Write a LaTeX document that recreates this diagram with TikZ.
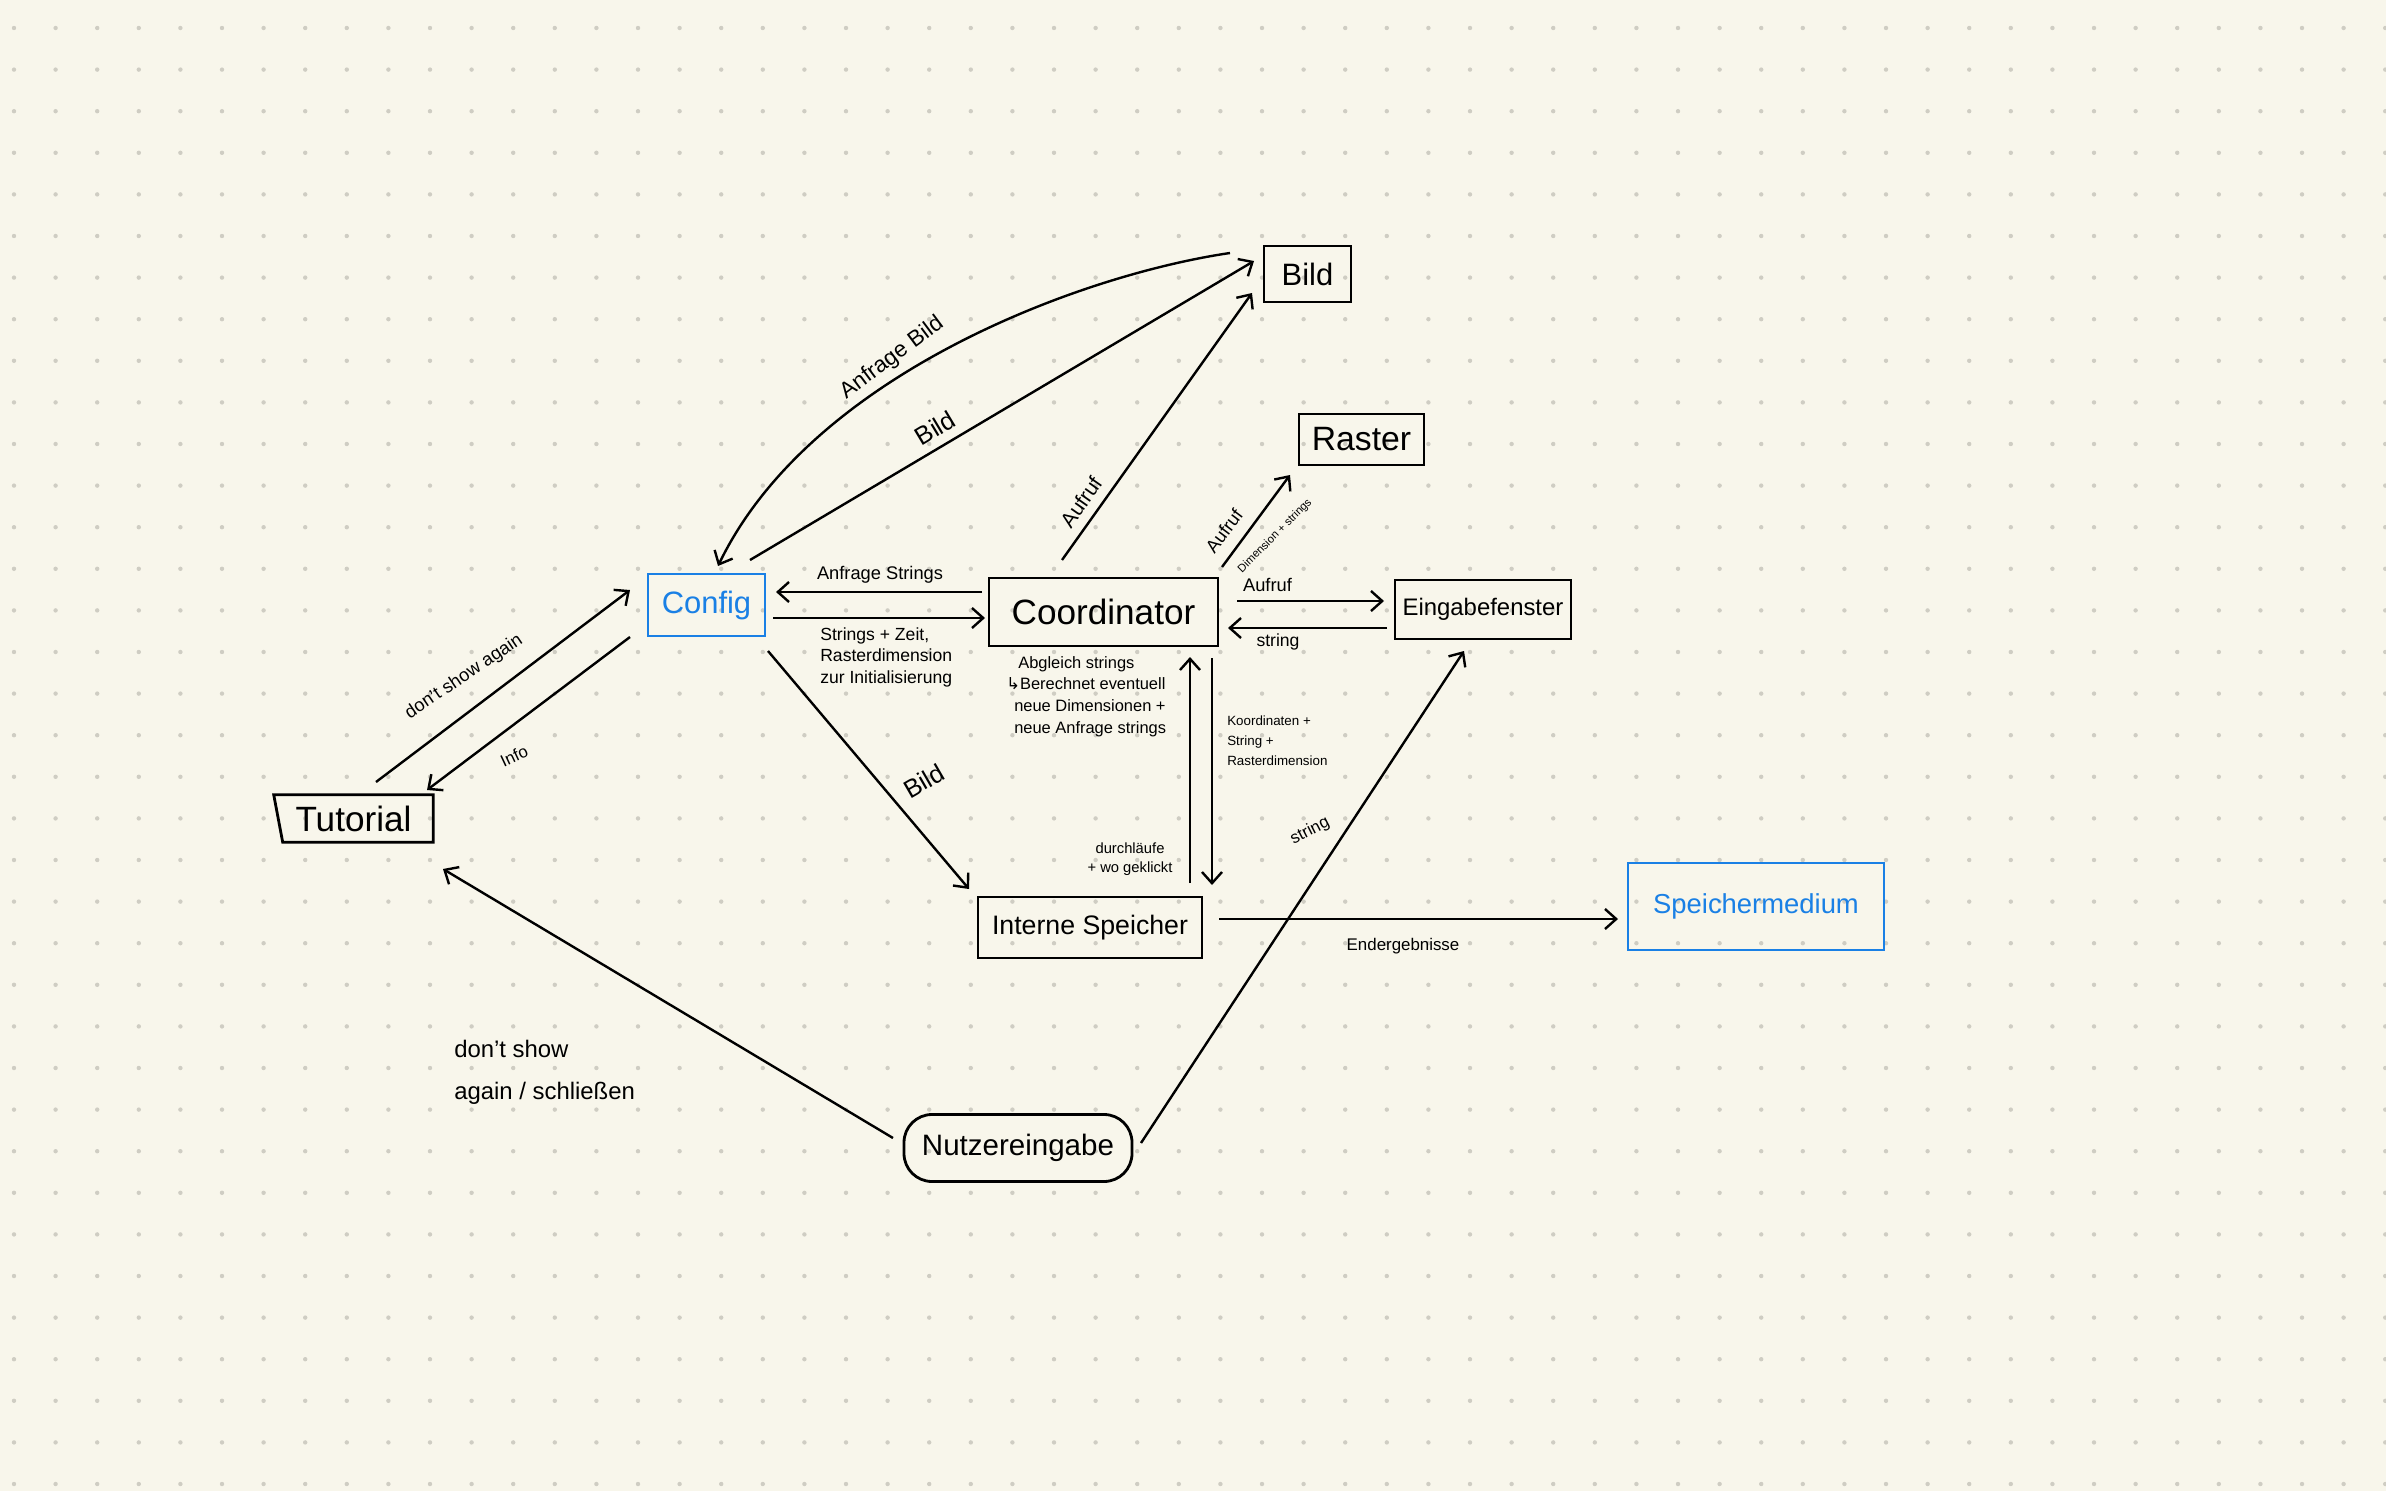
\documentclass[tikz,border=0pt]{standalone}
\usepackage{fontspec}
\setmainfont{Liberation Sans}
\newfontfamily\symfont{DejaVu Sans}
\usetikzlibrary{arrows.meta,calc}
\definecolor{paper}{HTML}{F8F6EB}
\definecolor{dotc}{HTML}{CFCDC3}
\definecolor{pblue}{HTML}{1A80E5}
\newcommand\fsz[2]{\fontsize{#1pt}{#2pt}\selectfont}
\begin{document}
\begin{tikzpicture}[x=0.25mm,y=-0.25mm,
  box/.style={draw, line width=0.7mm, inner sep=0pt, align=center},
  bluebox/.style={box, draw=pblue, text=pblue, line width=0.6mm},
  arr/.style={line width=0.6mm, -{Straight Barb[length=2.8mm,width=5mm]}},
  lbl/.style={inner sep=0pt},
  blk/.style={inner sep=0pt, align=left, anchor=north west}]
\fill[paper] (0,0) rectangle (2386,1491);
\useasboundingbox (0,0) rectangle (2386,1491);
\foreach \i in {0,...,57}{\foreach \j in {0,...,35}{\fill[dotc] (14+41.6*\i,28+41.6*\j) circle (0.55mm);}}
% nodes
\node[box, minimum width=57.25mm, minimum height=17mm, font=\fsz{25}{30}] (coord) at (1103.5,612) {Coordinator};
\node[bluebox, minimum width=29.25mm, minimum height=15.5mm, font=\fsz{22}{26}] (config) at (706.5,605) {Config};
\node[box, minimum width=31.25mm, minimum height=12.75mm, font=\fsz{24}{28}] (raster) at (1361.5,439.5) {Raster};
\node[box, minimum width=44mm, minimum height=14.75mm, font=\fsz{17}{20}] (eing) at (1483,609.5) {Eingabefenster};
\node[box, minimum width=21.75mm, minimum height=14mm, font=\fsz{22}{26}] (bild) at (1307.5,274) {Bild};
\node[inner sep=0pt, minimum width=39.75mm, minimum height=11.75mm, font=\fsz{25}{30}] (tut) at (353.5,818.5) {Tutorial};
\draw[line width=0.7mm] (tut.north west) -- (tut.north east) -- (tut.south east) -- ([xshift=2.25mm]tut.south west) -- cycle;
\node[box, minimum width=56mm, minimum height=15.25mm, font=\fsz{19}{23}] (intern) at (1090,927.5) {Interne Speicher};
\node[bluebox, minimum width=64mm, minimum height=21.75mm, font=\fsz{19.5}{23}] (speich) at (1756,906.5) {Speichermedium};
\node[box, rounded corners=7mm, minimum width=57mm, minimum height=16.75mm, font=\fsz{21}{25}] (nutz) at (1018,1148) {Nutzereingabe};
% connectors
\draw[arr] ($(bild)+(-77.5,-21)$) .. controls +(-150,22) and +(92,-191) .. ($(config)+(11.5,-39)$);
\draw[arr] ($(config)+(43.5,-45)$) -- ($(bild)+(-53.5,-13)$);
\draw[arr] ($(coord)+(-41.5,-52)$) -- ($(bild)+(-55.5,19)$);
\draw[arr] ($(coord)+(118.5,-45)$) -- ($(raster)+(-71.5,35.5)$);
\draw[arr] ($(coord)+(133.5,-11)$) -- ($(eing)+(-99,-8.5)$);
\draw[arr] ($(eing)+(-96,18.5)$) -- ($(coord)+(124.5,16)$);
\draw[arr] ($(coord)+(-121.5,-20)$) -- ($(config)+(69.5,-13)$);
\draw[arr] ($(config)+(66.5,13)$) -- ($(coord)+(-118.5,6)$);
\draw[arr] ($(intern)+(100,-44.5)$) -- ($(coord)+(86.5,45)$);
\draw[arr] ($(coord)+(108.5,46)$) -- ($(intern)+(122,-42.5)$);
\draw[arr] ($(config)+(61.5,46)$) -- ($(intern)+(-121,-38.5)$);
\draw[arr] ($(intern)+(129,-8.5)$) -- ($(speich)+(-138,12.5)$);
\draw[arr] ($(nutz)+(123,-5)$) -- ($(eing)+(-19,41.5)$);
\draw[arr] ($(nutz)+(-125,-10)$) -- ($(tut)+(89.5,50.5)$);
\draw[arr] ($(tut)+(22.5,-36.5)$) -- ($(config)+(-76.5,-15)$);
\draw[arr] ($(config)+(-76.5,32)$) -- ($(tut)+(73.5,-28.5)$);
% labels
\node[lbl, rotate=36.7, font=\fsz{16}{19}] (lab1) at (892,358) {Anfrage Bild};
\node[lbl, rotate=31, font=\fsz{18}{21}] (lab2) at (935,428) {Bild};
\node[lbl, rotate=55, font=\fsz{15}{18}] (lab3) at (1081,502) {Aufruf};
\node[lbl, rotate=53, font=\fsz{13}{16}] (lab4) at (1224,531) {Aufruf};
\node[lbl, rotate=45, font=\fsz{8}{10}] (lab5) at (1275,536) {Dimension + strings};
\node[lbl, font=\fsz{13}{16}] (lab6) at (1267.5,585) {Aufruf};
\node[lbl, font=\fsz{12.5}{15}] (lab7) at (1278,642) {string};
\node[lbl, font=\fsz{13}{16}] (lab8) at (880,575) {Anfrage Strings};
\node[blk, font=\fsz{12.5}{15.6}] (lab9) at (820,627) {Strings + Zeit,\\Rasterdimension\\zur Initialisierung};
\node[blk, font=\fsz{11.7}{15.4}] (lab10) at (1006,656) {\hspace*{3mm}Abgleich strings\\{\symfont ↳}Berechnet eventuell\\\hspace*{2mm}neue Dimensionen +\\\hspace*{2mm}neue Anfrage strings};
\node[blk, font=\fsz{9.5}{14}] (lab11) at (1227,716) {Koordinaten +\\String +\\Rasterdimension};
\node[lbl, align=center, font=\fsz{10.5}{13.5}] (lab12) at (1130,859) {durchläufe\\+ wo geklickt};
\node[lbl, font=\fsz{12}{15}] (lab13) at (1403,946) {Endergebnisse};
\node[lbl, rotate=27, font=\fsz{12}{15}] (lab14) at (1310,831) {string};
\node[lbl, rotate=30, font=\fsz{18}{21}] (lab15) at (924,781) {Bild};
\node[lbl, rotate=34, font=\fsz{13}{16}] (lab16) at (464,677) {don't show again};
\node[lbl, rotate=25, font=\fsz{12}{15}] (lab17) at (514,756) {Info};
\node[blk, font=\fsz{17}{30}] (lab18) at (454,1040) {don't show\\again / schließen};
\end{tikzpicture}
\end{document}
